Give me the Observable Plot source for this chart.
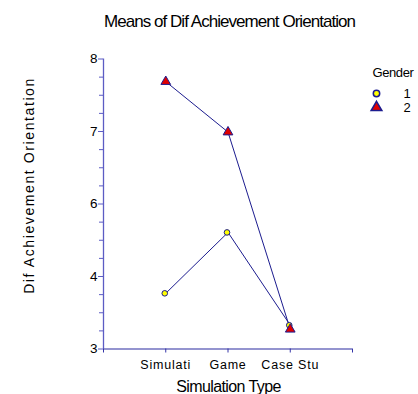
<!DOCTYPE html>
<html>
<head>
<meta charset="utf-8">
<script src="https://cdn.jsdelivr.net/npm/d3@7"></script>
<script src="https://cdn.jsdelivr.net/npm/@observablehq/plot@0.6"></script>
<style>
  html, body { margin: 0; padding: 0; background: #fff; }
  svg { display: block; }
</style>
</head>
<body>
<div id="chart"></div>
<script>
const categories = ["Simulati", "Game", "Case Stu"];
const genders = ["1", "2"];
const gender1Means = [3.96, 5.01, 3.41];
const gender2Means = [7.61, 6.74, 3.34];
const yMajorTicks = [3, 4.25, 5.5, 6.75, 8];
const yMinorTicks = d3.range(3, 8.0001, 0.3125).filter(v => !yMajorTicks.some(t => Math.abs(t - v) < 1e-6));
const titleText = "Means of Dif Achievement Orientation";
const xLabel = "Simulation Type";
const yLabel = "Dif Achievement Orientation";
const legendTitle = "Gender";

const rows = [
  ...categories.map((c, i) => ({x: i + 1, y: gender1Means[i], g: genders[0]})),
  ...categories.map((c, i) => ({x: i + 1, y: gender2Means[i], g: genders[1]}))
];

const navy = "#1c1c8f";
const axisBlue = "#5c5cc4";
const font = "'Liberation Sans', Arial, sans-serif";

const chart = Plot.plot({
  width: 418,
  height: 394,
  marginLeft: 103,
  marginRight: 66,
  marginTop: 58.5,
  marginBottom: 45.5,
  style: {fontFamily: font, background: "#fff", color: "#000"},
  x: {domain: [0, 4]},
  y: {domain: [3, 8]},
  marks: [
    Plot.axisX({ticks: [0, 1, 2, 3, 4], tickFormat: d => (d >= 1 && d <= 3 ? categories[d - 1] : ""),
      tickSize: 4, tickPadding: 7, stroke: "#3434a8", fontSize: 12.5, label: null}),
    Plot.axisY({ticks: yMajorTicks, tickFormat: d => String(Math.round(d)), tickSize: 5, tickPadding: 1,
      stroke: axisBlue, fontSize: 13.5, label: null}),
    Plot.axisY({ticks: yMinorTicks, tickFormat: () => "", tickSize: 4, stroke: axisBlue, label: null}),
    Plot.ruleX([0], {stroke: axisBlue, strokeWidth: 1.3}),
    Plot.ruleY([3], {stroke: "#2a2aa0", strokeWidth: 1.2}),
    Plot.line(rows, {x: "x", y: "y", z: "g", stroke: navy, strokeWidth: 1}),
    Plot.dot(rows.filter(d => d.g === genders[0]), {x: "x", y: "y", r: 2.8, symbol: "circle", fill: "#ffff00", stroke: navy, strokeWidth: 1, dx: -1}),
    Plot.dot(rows.filter(d => d.g === genders[1]), {x: "x", y: "y", r: 3.6, symbol: "triangle", fill: "#e00000", stroke: navy, strokeWidth: 1}),
    // title
    Plot.text([titleText], {text: d => d, frameAnchor: "top", textAnchor: "middle", lineAnchor: "middle", dx: 1.5, dy: -37, fontSize: 17, fill: "#000"}),
    // x label
    Plot.text([xLabel], {text: d => d, frameAnchor: "bottom", textAnchor: "middle", lineAnchor: "middle", dx: 0.5, dy: 37.5, fontSize: 16, fill: "#000"}),
    // y label
    Plot.text([yLabel], {text: d => d, frameAnchor: "left", textAnchor: "middle", lineAnchor: "middle", rotate: -90, dx: -74, dy: -18.5, fontSize: 14, fill: "#000"}),
    // legend
    Plot.text([legendTitle], {text: d => d, frameAnchor: "top-right", textAnchor: "start", lineAnchor: "middle", dx: 20, dy: 13.5, fontSize: 13, fill: "#000"}),
    Plot.dot([genders[0]], {frameAnchor: "top-right", dx: 24, dy: 34.5, r: 3.2, symbol: "circle", fill: "#ffff00", stroke: navy}),
    Plot.dot([genders[1]], {frameAnchor: "top-right", dx: 24, dy: 48.5, r: 4, symbol: "triangle", fill: "#e00000", stroke: navy}),
    Plot.text([genders[0]], {text: d => d, frameAnchor: "top-right", textAnchor: "middle", lineAnchor: "middle", dx: 54.5, dy: 34.5, fontSize: 13, fill: "#000"}),
    Plot.text([genders[1]], {text: d => d, frameAnchor: "top-right", textAnchor: "middle", lineAnchor: "middle", dx: 54.5, dy: 48.5, fontSize: 13, fill: "#000"})
  ]
});

// letter spacing adjustments to mimic the original's text rendering
const spacing = new Map([
  [titleText, "-0.95px"],
  [xLabel, "-0.6px"],
  [yLabel, "1.6px"],
  [legendTitle, "-0.4px"]
]);
d3.select(chart).selectAll("text").each(function () {
  const t = this.textContent;
  if (spacing.has(t)) d3.select(this).attr("letter-spacing", spacing.get(t));
  if (categories.includes(t)) d3.select(this).attr("letter-spacing", "0.8px");
});
document.getElementById("chart").appendChild(chart);
</script>
</body>
</html>
